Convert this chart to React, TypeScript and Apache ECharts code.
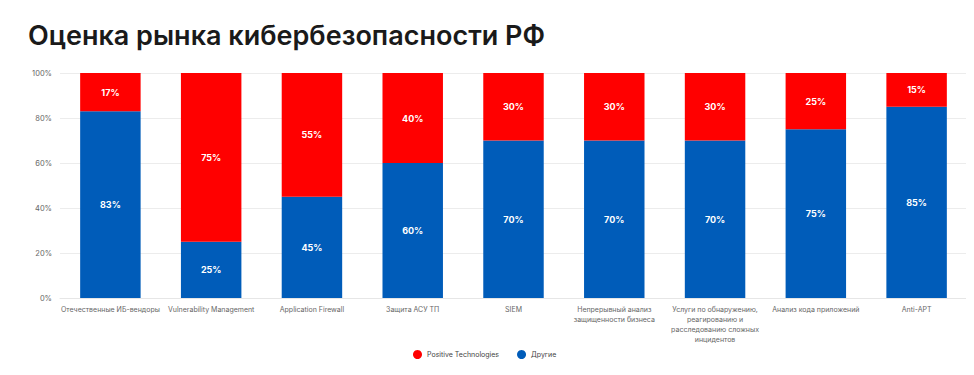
import React, { useEffect, useRef } from "react";
import * as echarts from "echarts";

const categories = [
  "Отечественные ИБ-вендоры",
  "Vulnerability Management",
  "Application Firewall",
  "Защита АСУ ТП",
  "SIEM",
  "Непрерывный анализ\nзащищенности бизнеса",
  "Услуги по обнаружению,\nреагированию и\nрасследованию сложных\nинцидентов",
  "Анализ кода приложений",
  "Anti-APT",
];
const others = [83, 25, 45, 60, 70, 70, 70, 75, 85];
const positive = [17, 75, 55, 40, 30, 30, 30, 25, 15];
const yTicks = [0, 20, 40, 60, 80, 100];

export default function App() {
  const ref = useRef<HTMLDivElement>(null);
  useEffect(() => {
    const chart = echarts.init(ref.current!, null, { renderer: "svg" });
    const labelStyle = {
      show: true,
      position: "inside" as const,
      color: "#fff",
      fontWeight: "bold" as const,
      fontSize: 9,
      fontFamily: "Inter",
      formatter: (p: any) => p.value + "%",
    };
    chart.setOption({
      animation: false,
      title: {
        text: "Оценка рынка кибербезопасности РФ",
        left: 15,
        top: 9,
        textStyle: { fontFamily: "Inter", fontSize: 27, fontWeight: 600, color: "#1a1a1a" },
      },
      legend: {
        bottom: 11,
        left: 400,
        icon: "circle",
        itemWidth: 9,
        itemHeight: 9,
        itemGap: 18,
        textStyle: { fontSize: 7, color: "#444", fontFamily: "Inter" },
        data: ["Positive Technologies", "Другие"],
      },
      grid: { left: 52, right: 7, top: 65, bottom: 77, containLabel: false },
      xAxis: {
        type: "category",
        data: categories,
        axisLine: { show: true, lineStyle: { color: "#e6e6e6" } },
        axisTick: { show: false },
        axisLabel: { fontSize: 7, color: "#666", fontFamily: "Inter", interval: 0, lineHeight: 10, margin: 6 },
      },
      yAxis: {
        type: "value",
        min: 0,
        max: 100,
        interval: 20,
        axisLabel: {
          fontSize: 7.5,
          color: "#666",
          fontFamily: "Inter",
          formatter: (v: number) => (yTicks.includes(v) ? v + "%" : ""),
        },
        splitLine: { lineStyle: { color: "#ececec" } },
      },
      series: [
        {
          name: "Другие",
          type: "bar",
          stack: "a",
          data: others,
          barWidth: "60%",
          itemStyle: { color: "#005cb9" },
          label: labelStyle,
        },
        {
          name: "Positive Technologies",
          type: "bar",
          stack: "a",
          data: positive,
          barWidth: "60%",
          itemStyle: { color: "#ff0000" },
          label: labelStyle,
        },
      ],
    });
    return () => chart.dispose();
  }, []);
  return <div ref={ref} style={{ width: 966, height: 367 }} />;
}
